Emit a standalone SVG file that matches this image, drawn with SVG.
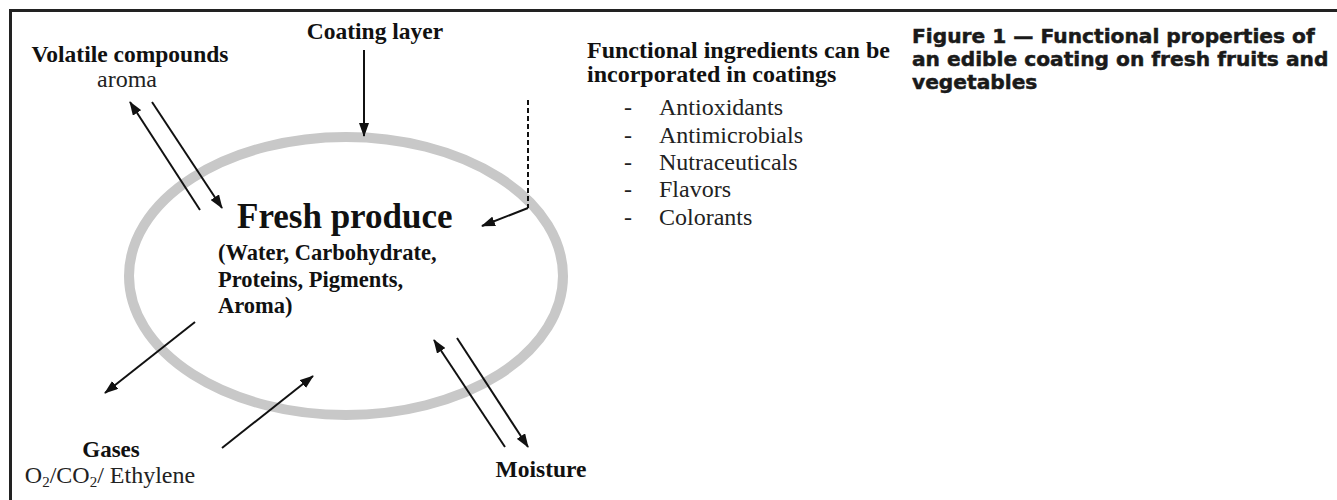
<svg xmlns="http://www.w3.org/2000/svg" width="1337" height="500" viewBox="0 0 1337 500">
<defs>
<marker id="ah" markerUnits="userSpaceOnUse" markerWidth="14" markerHeight="10" refX="13" refY="5" orient="auto">
<path d="M0,0 L14,5 L0,10 z" fill="#111"/>
</marker>
<style>
.b{font-family:"Liberation Serif","Times New Roman",serif;font-weight:bold;fill:#111}
.r{font-family:"Liberation Serif","Times New Roman",serif;fill:#222}
.cap{font-family:"DejaVu Sans","Liberation Sans",sans-serif;font-weight:bold;font-size:20.2px;fill:#1a1a1a;stroke:#1a1a1a;stroke-width:0.5}
.ln{stroke:#111;stroke-width:2;fill:none}
</style>
</defs>
<rect width="1337" height="500" fill="#fff"/>
<path d="M10.5,500 V10.5 H1337" fill="none" stroke="#222" stroke-width="3"/>

<g id="fresh-produce">
<ellipse cx="346" cy="276" rx="217" ry="139" fill="none" stroke="#c8c8c8" stroke-width="10"/>
<text class="b" x="237" y="228" font-size="35">Fresh produce</text>
<text class="b" font-size="22.5"><tspan x="218" y="260">(Water, Carbohydrate,</tspan><tspan x="218" y="287">Proteins, Pigments,</tspan><tspan x="218" y="313">Aroma)</tspan></text>
</g>

<g id="volatile">
<text class="b" x="130" y="62" font-size="23.5" text-anchor="middle">Volatile compounds</text>
<text class="r" x="127" y="87" font-size="24" text-anchor="middle">aroma</text>
</g>

<g id="coating-layer">
<text class="b" x="375" y="39" font-size="23.5" text-anchor="middle">Coating layer</text>
</g>

<g id="functional">
<text class="b" font-size="24"><tspan x="587" y="58">Functional ingredients can be</tspan><tspan x="587" y="82">incorporated in coatings</tspan></text>
<g class="r" font-size="24">
<text x="624" y="115">-</text><text x="659" y="115">Antioxidants</text>
<text x="624" y="143">-</text><text x="659" y="143">Antimicrobials</text>
<text x="624" y="170">-</text><text x="659" y="170">Nutraceuticals</text>
<text x="624" y="197">-</text><text x="659" y="197">Flavors</text>
<text x="624" y="225">-</text><text x="659" y="225">Colorants</text>
</g>
</g>

<g id="gases">
<text class="b" x="111" y="457" font-size="23" text-anchor="middle">Gases</text>
<text class="r" x="110" y="483" font-size="24" text-anchor="middle">O<tspan font-size="15" dy="4">2</tspan><tspan dy="-4">/CO</tspan><tspan font-size="15" dy="4">2</tspan><tspan dy="-4">/ Ethylene</tspan></text>
</g>

<g id="moisture">
<text class="b" x="541" y="477" font-size="23.5" text-anchor="middle">Moisture</text>
</g>

<g id="caption">
<text class="cap"><tspan x="912" y="43">Figure 1 — Functional properties of</tspan><tspan x="912" y="66">an edible coating on fresh fruits and</tspan><tspan x="912" y="89">vegetables</tspan></text>
</g>

<g id="connectors">
<line class="ln" x1="364" y1="50" x2="364" y2="136" marker-end="url(#ah)"/>
<line class="ln" x1="200" y1="210" x2="130" y2="102" marker-end="url(#ah)"/>
<line class="ln" x1="152" y1="102" x2="222" y2="208" marker-end="url(#ah)"/>
<path d="M528,100 V208" fill="none" stroke="#111" stroke-width="2" stroke-dasharray="5,3"/>
<line class="ln" x1="528" y1="208" x2="482" y2="226" marker-end="url(#ah)"/>
<line class="ln" x1="195" y1="322" x2="105" y2="393" marker-end="url(#ah)"/>
<line class="ln" x1="222" y1="448" x2="313" y2="376" marker-end="url(#ah)"/>
<line class="ln" x1="505" y1="447" x2="434" y2="340" marker-end="url(#ah)"/>
<line class="ln" x1="457" y1="338" x2="528" y2="447" marker-end="url(#ah)"/>
</g>
</svg>
